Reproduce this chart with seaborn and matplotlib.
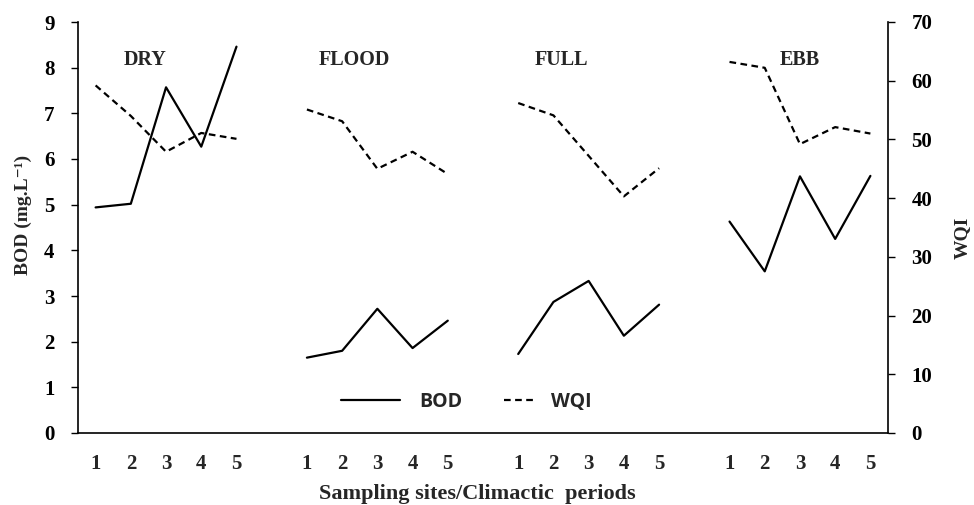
import numpy as np
import pandas as pd
import matplotlib
matplotlib.use("Agg")
import matplotlib.pyplot as plt
import seaborn as sns
from matplotlib.lines import Line2D

# ---- data ----
periods = ["DRY", "FLOOD", "FULL", "EBB"]
sites = [1, 2, 3, 4, 5]
bod_dry = [4.94, 5.02, 7.57, 6.27, 8.46]
bod_flood = [1.65, 1.80, 2.72, 1.86, 2.46]
bod_full = [1.73, 2.87, 3.33, 2.13, 2.81]
bod_ebb = [4.63, 3.54, 5.62, 4.25, 5.63]
wqi_dry = [59.2, 54.0, 47.9, 51.1, 50.1]
wqi_flood = [55.1, 53.1, 45.0, 47.9, 44.1]
wqi_full = [56.2, 54.1, 47.2, 40.3, 45.1]
wqi_ebb = [63.2, 62.2, 49.2, 52.1, 51.0]

bod = [bod_dry, bod_flood, bod_full, bod_ebb]
wqi = [wqi_dry, wqi_flood, wqi_full, wqi_ebb]

rows = []
for pi, p in enumerate(periods):
    for si, s in enumerate(sites):
        rows.append({"period": p, "site": s, "pos": pi * (len(sites) + 1) + si,
                     "BOD": bod[pi][si], "WQI": wqi[pi][si]})
df = pd.DataFrame(rows)

sns.set_theme(style="white")
plt.rcParams["font.family"] = ["Liberation Serif", "DejaVu Serif"]
plt.rcParams["font.weight"] = "bold"

fig = plt.figure(figsize=(9.74, 5.05), dpi=100)
ax = fig.add_axes([78 / 974, 1 - 433 / 505, 810 / 974, 411 / 505])
ax2 = ax.twinx()

sns.lineplot(data=df, x="pos", y="BOD", units="period", estimator=None,
             color="black", lw=1.6, ax=ax, legend=False)
sns.lineplot(data=df, x="pos", y="WQI", units="period", estimator=None,
             color="black", lw=1.6, ax=ax2, legend=False)
for ln in ax2.get_lines():
    ln.set_linestyle((0, (3, 2)))

ax.set_xlim(-0.5, df["pos"].max() + 0.5)
ax.set_ylim(0, 9)
ax2.set_ylim(0, 70)
ax.set_yticks(np.arange(0, 10, 1))
ax2.set_yticks(np.arange(0, 71, 10))
ax.set_xticks(df["pos"])
ax.set_xticklabels([str(s) for s in df["site"]])

for a in (ax, ax2):
    a.spines["top"].set_visible(False)
    for sp in a.spines.values():
        sp.set_color("black")
        sp.set_linewidth(1.2)
    a.grid(False)
ax.spines["right"].set_visible(False)
ax2.spines["left"].set_visible(False)
ax2.spines["bottom"].set_visible(False)

ax.tick_params(axis="x", length=0, pad=15, labelsize=15)
ax.tick_params(axis="y", length=5, width=1, direction="out", pad=12, labelsize=15,
               left=True, colors="black")
ax2.tick_params(axis="y", length=5, width=1, direction="out", pad=12, labelsize=15,
                right=True, colors="black")
for lab in ax.get_xticklabels() + ax.get_yticklabels() + ax2.get_yticklabels():
    lab.set_fontweight("bold")

ax.set_xlabel("Sampling sites/Climactic  periods", fontsize=16, fontweight="bold")
ax.xaxis.set_label_coords(0.493, -0.125)
ax.set_ylabel("BOD (mg.L⁻¹)", fontsize=14, fontweight="bold")
ax.yaxis.set_label_coords(-0.057, 0.53)
ax2.set_ylabel("WQI", fontsize=14, fontweight="bold", rotation=90)
ax2.yaxis.set_label_coords(1.081, 0.474)

# period labels
label_x = [1.4, 7.36, 13.24, 20.0]
for p, lx in zip(periods, label_x):
    ax.text(lx, 8.17, p, ha="center", va="center", fontsize=14.5, fontweight="bold")

# legends
lfont = {"family": "Open Sans", "weight": "bold", "size": 14}
h1 = [Line2D([], [], color="black", lw=1.6)]
leg1 = ax.legend(h1, ["BOD"], loc="center left", bbox_to_anchor=(0.325, 0.0754),
                 frameon=False, borderpad=0, borderaxespad=0, handlelength=3.0,
                 handletextpad=1.0, prop=lfont)
ax.add_artist(leg1)
h2 = [Line2D([], [], color="black", lw=1.6, linestyle=(0, (3, 2)))]
leg2 = ax.legend(h2, ["WQI"], loc="center left", bbox_to_anchor=(0.526, 0.0754),
                 frameon=False, borderpad=0, borderaxespad=0, handlelength=1.55,
                 handletextpad=0.85, prop=lfont)

fig.savefig("out.png", dpi=100)
